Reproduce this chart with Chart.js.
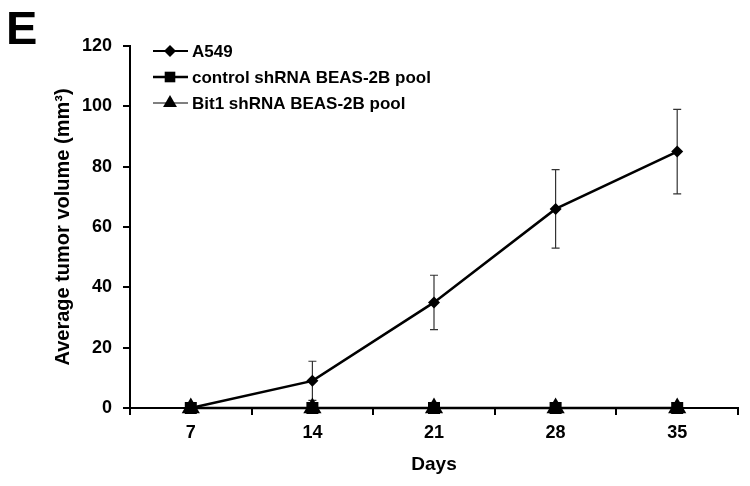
<!DOCTYPE html>
<html lang="en">
<head>
  <meta charset="UTF-8">
  <title>Average tumor volume</title>
  <script src="https://cdn.jsdelivr.net/npm/chart.js"></script>
  <style>
    body {
      margin: 0;
      padding: 0;
      background: #fff;
      font-family: 'Liberation Sans', Arial, sans-serif;
    }
    #wrap {
      position: relative;
      width: 750px;
      height: 486px;
    }
    #panel {
      position: absolute;
      left: 6px;
      top: 4px;
      font-size: 47px;
      line-height: 47px;
      font-weight: bold;
      color: #000;
    }
  </style>
</head>
<body>
  <div id="wrap">
    <canvas id="tumorChart"></canvas>
    <div id="panel">E</div>
  </div>

  <script>
    // data
    const days = ['7', '14', '21', '28', '35'];
    const a549 = [0, 9, 35, 66, 85];
    const a549Err = [0, 6.5, 9, 13, 14];
    const controlPool = [0, 0, 0, 0, 0];
    const bit1Pool = [0, 0, 0, 0, 0];
    const yTicks = [0, 20, 40, 60, 80, 100, 120];

    const font = "'Liberation Sans', Arial, sans-serif";
    Chart.defaults.font.family = font;
    Chart.defaults.font.weight = 'bold';
    Chart.defaults.color = '#000';

    // error bars (A549 only), drawn through the scales
    const errorBars = {
      id: 'errorBars',
      beforeDatasetsDraw(chart) {
        const ctx = chart.ctx;
        const x = chart.scales.x, y = chart.scales.y;
        ctx.save();
        ctx.strokeStyle = '#333';
        ctx.lineWidth = 1.2;
        a549.forEach((v, i) => {
          const e = a549Err[i];
          if (!e) return;
          const px = x.getPixelForValue(i);
          const top = y.getPixelForValue(v + e);
          const bot = y.getPixelForValue(v - e);
          ctx.beginPath();
          ctx.moveTo(px, top); ctx.lineTo(px, bot);
          ctx.moveTo(px - 4, top); ctx.lineTo(px + 4, top);
          ctx.moveTo(px - 4, bot); ctx.lineTo(px + 4, bot);
          ctx.stroke();
        });
        ctx.restore();
      }
    };

    // legend inside the plot, line + marker like the original
    const innerLegend = {
      id: 'innerLegend',
      afterDraw(chart) {
        const ctx = chart.ctx;
        const area = chart.chartArea;
        const x0 = area.left + 23;
        ctx.save();
        ctx.font = 'bold 17px ' + font;
        ctx.textBaseline = 'middle';
        ctx.textAlign = 'left';
        chart.data.datasets.forEach((ds, i) => {
          const yy = area.top + 5 + i * 26;
          ctx.strokeStyle = '#000';
          ctx.fillStyle = '#000';
          ctx.lineWidth = ds.legendLine;
          ctx.beginPath();
          ctx.moveTo(x0, yy); ctx.lineTo(x0 + 35, yy);
          ctx.stroke();
          Chart.helpers.drawPoint(ctx, {
            pointStyle: ds.pointStyle,
            radius: ds.legendRadius,
            rotation: 0,
            borderWidth: 0
          }, x0 + 17, yy);
          ctx.fillText(ds.label, x0 + 39, yy + 1);
        });
        ctx.restore();
      }
    };

    new Chart(document.getElementById('tumorChart'), {
      type: 'line',
      data: {
        labels: days,
        datasets: [
          {
            label: 'A549',
            data: a549,
            borderColor: '#000',
            backgroundColor: '#000',
            borderWidth: 2.5,
            pointStyle: 'rectRot',
            pointRadius: 6,
            pointBorderWidth: 0,
            legendLine: 2,
            legendRadius: 6,
            order: 3,
            clip: false
          },
          {
            label: 'control shRNA BEAS-2B pool',
            data: controlPool,
            borderColor: '#000',
            backgroundColor: '#000',
            borderWidth: 2.5,
            pointStyle: 'rect',
            pointRadius: 8.5,
            pointBorderWidth: 0,
            legendLine: 2.5,
            legendRadius: 7.5,
            order: 2,
            clip: false
          },
          {
            label: 'Bit1 shRNA BEAS-2B pool',
            data: bit1Pool,
            borderColor: '#000',
            backgroundColor: '#000',
            borderWidth: 1.2,
            pointStyle: 'triangle',
            pointRadius: 10.5,
            pointBorderWidth: 0,
            legendLine: 1,
            legendRadius: 8,
            order: 1,
            clip: false
          }
        ]
      },
      options: {
        responsive: true,
        maintainAspectRatio: false,
        animation: false,
        events: [],
        layout: { padding: { left: 0, top: 46, right: 12, bottom: 0 } },
        scales: {
          x: {
            offset: true,
            grid: { offset: true, drawOnChartArea: false, tickLength: 7, color: '#000', lineWidth: 2 },
            border: { color: '#000', width: 2 },
            ticks: { font: { size: 18, weight: 'bold' }, padding: 7, color: '#000' },
            title: { display: true, text: 'Days', font: { size: 19, weight: 'bold' }, padding: { top: 0, bottom: 10 }, color: '#000' },
            afterFit(scale) { scale.height = 78; }
          },
          y: {
            min: 0,
            max: 120,
            afterBuildTicks(scale) { scale.ticks = yTicks.map(v => ({ value: v })); },
            grid: { drawOnChartArea: false, tickLength: 7, color: '#000', lineWidth: 2 },
            border: { color: '#000', width: 2 },
            ticks: { font: { size: 18, weight: 'bold' }, padding: 11, color: '#000' },
            title: { display: true, text: 'Average tumor volume (mm³)', font: { size: 20, weight: 'bold' }, padding: { top: 51, bottom: 0 }, color: '#000' },
            afterFit(scale) { scale.width = 130; }
          }
        },
        plugins: {
          legend: { display: false },
          tooltip: { enabled: false }
        }
      },
      plugins: [errorBars, innerLegend]
    });
  </script>
</body>
</html>
